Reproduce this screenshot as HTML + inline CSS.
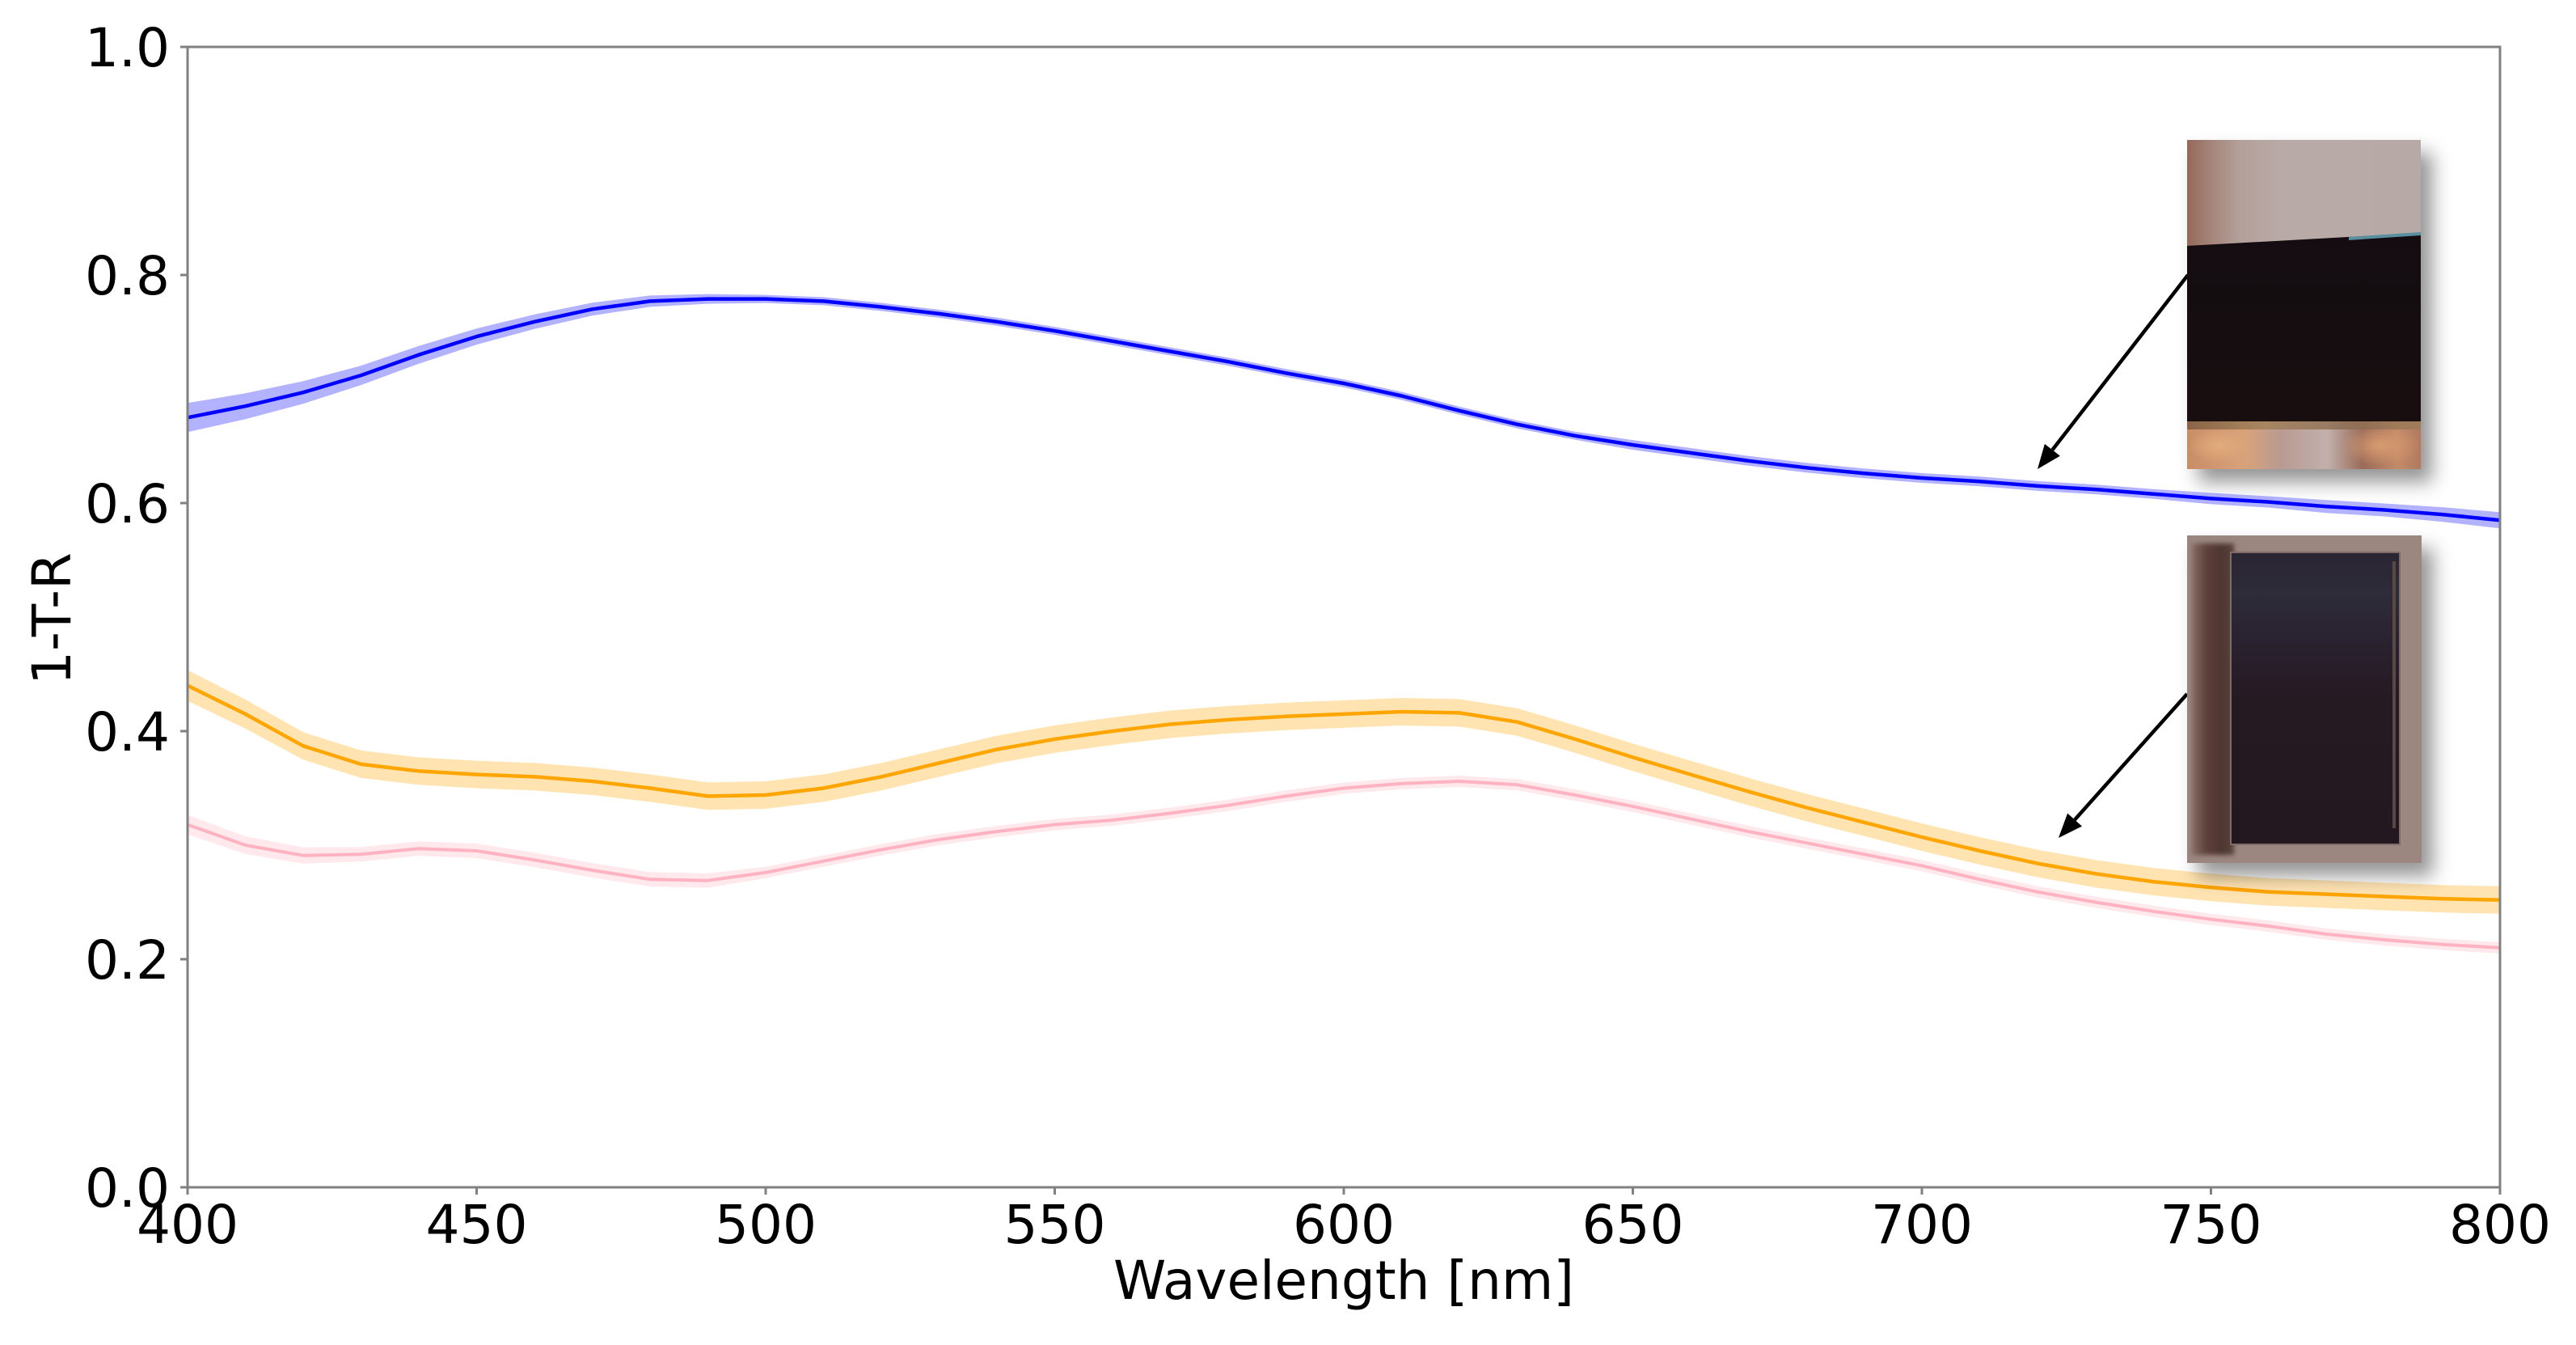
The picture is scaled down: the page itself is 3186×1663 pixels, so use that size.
<!DOCTYPE html>
<html>
<head>
<meta charset="utf-8">
<style>
  html, body { margin:0; padding:0; background:#fff; }
  body { width:3186px; height:1663px; position:relative; overflow:hidden; }
  svg { position:absolute; left:0; top:0; }
  .photo { position:absolute; box-shadow: 14px 16px 22px rgba(0,0,0,0.42); overflow:hidden; }
  #p1 { left:2705px; top:173px; width:289px; height:407px;
        background: linear-gradient(to right, #94695a 0%, #a4847a 10%, #b39f99 22%, #b8aaa6 40%, #b7aaa6 100%); }
  #p1 .dark { position:absolute; left:0; top:0; width:289px; height:407px;
        background: linear-gradient(to bottom, #120c12 0%, #150d10 60%, #1c0f0e 100%);
        clip-path: polygon(0px 131px, 289px 115px, 289px 352px, 0px 352px); }
  #p1 .teal { position:absolute; left:0; top:0; width:289px; height:407px;
        background:#5a8fa0;
        clip-path: polygon(200px 120px, 289px 114px, 289px 118px, 200px 124px); }
  #p1 .bottom { position:absolute; left:0; top:348px; width:289px; height:59px;
        background:
          radial-gradient(ellipse 40px 22px at 40px 30px, #e2ac7c 0%, rgba(226,172,124,0) 100%),
          radial-gradient(ellipse 50px 25px at 240px 30px, #d89c70 0%, rgba(216,156,112,0) 100%),
          linear-gradient(to right, #c98c66 0%, #d8a27a 25%, #b99a92 40%, #c2b0ac 60%, #9a6a58 75%, #c48a68 90%, #b07a60 100%);
  }
  #p1 .bottom:before { content:""; position:absolute; left:0; top:0; width:289px; height:10px;
        background: linear-gradient(to right, #7a5a40, #a08058, #8a6a50, #9c7c5a); opacity:0.8; }
  #p2 { left:2705px; top:662px; width:290px; height:405px; background:#9b8680; }
  #p2 .strip { position:absolute; left:6px; top:10px; width:52px; height:385px;
        background: linear-gradient(to right, #866c66 0%, #5c4038 35%, #4e3630 70%, #5a423c 100%);
        filter: blur(3px); }
  #p2 .inner { position:absolute; left:53px; top:20px; width:211px; height:363px;
        background: linear-gradient(to bottom, #2a2532 0%, #2e2c3a 14%, #2a2230 30%, #261a22 50%, #241820 100%);
        border:2px solid #7e6a68; box-sizing:border-box; }
  #p2 .inner:after { content:""; position:absolute; right:4px; top:10px; width:4px; height:330px;
        background:#5a4846; }
</style>
</head>
<body>
<svg width="3186" height="1663" viewBox="0 0 3186 1663" xmlns="http://www.w3.org/2000/svg">
  <!-- Blue band + line -->
  <polygon fill="#0000ff" fill-opacity="0.3" points="232,498.3 303.5,486.2 375,471.2 446.5,452.1 518,427.7 589.5,406.1 661,388.8 732.5,374.3 804,365.4 875.5,363.6 947,364.6 1018.5,367.4 1090,374.5 1161.5,382.9 1233,392.8 1304.5,404.1 1376,416.8 1447.5,429.5 1519,442.2 1590.5,456.3 1662,469.0 1733.5,484.5 1805,502.8 1876.5,519.7 1948,533.8 2019.5,544.1 2091,554.0 2162.5,563.8 2234,572.3 2305.5,579.3 2377,585.0 2448.5,589.2 2520,594.9 2591.5,599.1 2663,604.7 2734.5,609.4 2806,613.6 2877.5,618.2 2949,622.5 3020.5,627.1 3092,633.2 3092,653.2 3020.5,645.1 2949,638.5 2877.5,634.2 2806,627.6 2734.5,623.4 2663,616.7 2591.5,611.1 2520,606.9 2448.5,601.2 2377,597.0 2305.5,591.3 2234,584.3 2162.5,575.8 2091,566.0 2019.5,556.1 1948,543.8 1876.5,529.7 1805,512.8 1733.5,494.5 1662,479.0 1590.5,466.3 1519,452.2 1447.5,439.5 1376,426.8 1304.5,414.1 1233,402.8 1161.5,392.9 1090,384.5 1018.5,377.4 947,374.6 875.5,375.6 804,379.4 732.5,390.3 661,406.8 589.5,426.1 518,449.7 446.5,476.1 375,499.2 303.5,518.2 232,534.3"/>
  <polyline fill="none" stroke="#0000ff" stroke-width="4.5" stroke-linejoin="round" points="232,516.3 303.5,502.2 375,485.2 446.5,464.1 518,438.7 589.5,416.1 661,397.8 732.5,382.3 804,372.4 875.5,369.6 947,369.6 1018.5,372.4 1090,379.5 1161.5,387.9 1233,397.8 1304.5,409.1 1376,421.8 1447.5,434.5 1519,447.2 1590.5,461.3 1662,474.0 1733.5,489.5 1805,507.8 1876.5,524.7 1948,538.8 2019.5,550.1 2091,560.0 2162.5,569.8 2234,578.3 2305.5,585.3 2377,591.0 2448.5,595.2 2520,600.9 2591.5,605.1 2663,610.7 2734.5,616.4 2806,620.6 2877.5,626.2 2949,630.5 3020.5,636.1 3092,643.2"/>

  <!-- Orange band + line -->
  <polygon fill="#ffa500" fill-opacity="0.3" points="232,828.6 303.5,864.9 375,905.3 446.5,927.9 518,936.4 589.5,940.6 661,943.4 732.5,949.0 804,957.5 875.5,967.4 947,966.0 1018.5,957.5 1090,943.4 1161.5,926.5 1233,909.6 1304.5,896.9 1376,887.0 1447.5,878.5 1519,872.9 1590.5,868.7 1662,865.9 1733.5,863.0 1805,864.4 1876.5,875.7 1948,896.9 2019.5,919.4 2091,940.6 2162.5,961.7 2234,981.5 2305.5,999.8 2377,1018.1 2448.5,1035.0 2520,1050.6 2591.5,1063.3 2663,1073.1 2734.5,1080.2 2806,1085.8 2877.5,1088.6 2949,1091.5 3020.5,1094.3 3092,1095.7 3092,1129.7 3020.5,1128.3 2949,1125.5 2877.5,1122.6 2806,1119.8 2734.5,1114.2 2663,1107.1 2591.5,1097.3 2520,1084.6 2448.5,1069.0 2377,1052.1 2305.5,1033.8 2234,1015.5 2162.5,995.7 2091,974.6 2019.5,953.4 1948,930.9 1876.5,909.7 1805,898.4 1733.5,897.0 1662,899.9 1590.5,902.7 1519,906.9 1447.5,912.5 1376,921.0 1304.5,930.9 1233,943.6 1161.5,960.5 1090,977.4 1018.5,991.5 947,1000.0 875.5,1001.4 804,991.5 732.5,983.0 661,977.4 589.5,974.6 518,970.4 446.5,961.9 375,939.3 303.5,900.9 232,866.6"/>
  <polyline fill="none" stroke="#ffa500" stroke-width="4.5" stroke-linejoin="round" points="232,847.6 303.5,882.9 375,922.3 446.5,944.9 518,953.4 589.5,957.6 661,960.4 732.5,966.0 804,974.5 875.5,984.4 947,983.0 1018.5,974.5 1090,960.4 1161.5,943.5 1233,926.6 1304.5,913.9 1376,904.0 1447.5,895.5 1519,889.9 1590.5,885.7 1662,882.9 1733.5,880.0 1805,881.4 1876.5,892.7 1948,913.9 2019.5,936.4 2091,957.6 2162.5,978.7 2234,998.5 2305.5,1016.8 2377,1035.1 2448.5,1052.0 2520,1067.6 2591.5,1080.3 2663,1090.1 2734.5,1097.2 2806,1102.8 2877.5,1105.6 2949,1108.5 3020.5,1111.3 3092,1112.7"/>

  <!-- Pink band + line -->
  <polygon fill="#ffc0cb" fill-opacity="0.35" points="232,1007.6 303.5,1034.0 375,1047.7 446.5,1047.3 518,1040.2 589.5,1043.0 661,1054.3 732.5,1067.0 804,1078.3 875.5,1079.7 947,1071.8 1018.5,1057.7 1090,1043.6 1161.5,1031.0 1233,1021.1 1304.5,1012.6 1376,1007.0 1447.5,998.5 1519,988.7 1590.5,977.4 1662,967.5 1733.5,961.9 1805,959.0 1876.5,963.3 1948,976.0 2019.5,990.1 2091,1005.6 2162.5,1021.1 2234,1035.2 2305.5,1049.3 2377,1063.4 2448.5,1080.3 2520,1095.8 2591.5,1108.5 2663,1119.8 2734.5,1129.7 2806,1138.1 2877.5,1148.0 2949,1155.0 3020.5,1160.7 3092,1164.9 3092,1178.9 3020.5,1174.7 2949,1169.0 2877.5,1162.0 2806,1152.1 2734.5,1143.7 2663,1133.8 2591.5,1122.5 2520,1109.8 2448.5,1094.3 2377,1077.4 2305.5,1063.3 2234,1049.2 2162.5,1035.1 2091,1019.6 2019.5,1004.1 1948,990.0 1876.5,977.3 1805,973.0 1733.5,975.9 1662,981.5 1590.5,991.4 1519,1002.7 1447.5,1012.5 1376,1021.0 1304.5,1026.6 1233,1035.1 1161.5,1045.0 1090,1057.6 1018.5,1071.7 947,1085.8 875.5,1097.7 804,1096.3 732.5,1085.0 661,1072.3 589.5,1061.0 518,1058.2 446.5,1065.3 375,1067.7 303.5,1056.0 232,1031.6"/>
  <polyline fill="none" stroke="#ffb3c1" stroke-width="4" stroke-linejoin="round" points="232,1019.6 303.5,1045.0 375,1057.7 446.5,1056.3 518,1049.2 589.5,1052.0 661,1063.3 732.5,1076.0 804,1087.3 875.5,1088.7 947,1078.8 1018.5,1064.7 1090,1050.6 1161.5,1038.0 1233,1028.1 1304.5,1019.6 1376,1014.0 1447.5,1005.5 1519,995.7 1590.5,984.4 1662,974.5 1733.5,968.9 1805,966.0 1876.5,970.3 1948,983.0 2019.5,997.1 2091,1012.6 2162.5,1028.1 2234,1042.2 2305.5,1056.3 2377,1070.4 2448.5,1087.3 2520,1102.8 2591.5,1115.5 2663,1126.8 2734.5,1136.7 2806,1145.1 2877.5,1155.0 2949,1162.0 3020.5,1167.7 3092,1171.9"/>

  <!-- Axes frame -->
  <rect x="232" y="58" width="2860" height="1410" fill="none" stroke="#808080" stroke-width="3"/>
  <!-- Y ticks -->
  <g stroke="#808080" stroke-width="3">
    <line x1="223" y1="1468" x2="232" y2="1468"/>
    <line x1="223" y1="1186" x2="232" y2="1186"/>
    <line x1="223" y1="904" x2="232" y2="904"/>
    <line x1="223" y1="622" x2="232" y2="622"/>
    <line x1="223" y1="340" x2="232" y2="340"/>
    <line x1="223" y1="58" x2="232" y2="58"/>
    <!-- X ticks -->
    <line x1="232" y1="1468" x2="232" y2="1477"/>
    <line x1="589.5" y1="1468" x2="589.5" y2="1477"/>
    <line x1="947" y1="1468" x2="947" y2="1477"/>
    <line x1="1304.5" y1="1468" x2="1304.5" y2="1477"/>
    <line x1="1662" y1="1468" x2="1662" y2="1477"/>
    <line x1="2019.5" y1="1468" x2="2019.5" y2="1477"/>
    <line x1="2377" y1="1468" x2="2377" y2="1477"/>
    <line x1="2734.5" y1="1468" x2="2734.5" y2="1477"/>
    <line x1="3092" y1="1468" x2="3092" y2="1477"/>
  </g>

  <g font-family="'DejaVu Sans', 'Liberation Sans', sans-serif" font-size="66" fill="#000">
    <g text-anchor="end">
      <text x="210" y="1492">0.0</text>
      <text x="210" y="1210">0.2</text>
      <text x="210" y="928">0.4</text>
      <text x="210" y="646">0.6</text>
      <text x="210" y="364">0.8</text>
      <text x="210" y="82">1.0</text>
    </g>
    <g text-anchor="middle">
      <text x="232" y="1537">400</text>
      <text x="589.5" y="1537">450</text>
      <text x="947" y="1537">500</text>
      <text x="1304.5" y="1537">550</text>
      <text x="1662" y="1537">600</text>
      <text x="2019.5" y="1537">650</text>
      <text x="2377" y="1537">700</text>
      <text x="2734.5" y="1537">750</text>
      <text x="3092" y="1537">800</text>
      <text x="1662" y="1606">Wavelength [nm]</text>
      <text transform="translate(87,765) rotate(-90)">1-T-R</text>
    </g>
  </g>

  <!-- Arrows -->
  <g stroke="#000" stroke-width="4.5" fill="#000">
    <line x1="2706" y1="340" x2="2538.4" y2="556.3"/>
    <polygon stroke="none" points="2520,580 2547.9,563.7 2528.9,548.9"/>
    <line x1="2705" y1="858" x2="2566" y2="1013.6"/>
    <polygon stroke="none" points="2546,1036 2575,1021.6 2557.1,1005.6"/>
  </g>
</svg>

<div class="photo" id="p1">
  <div class="dark"></div>
  <div class="teal"></div>
  <div class="bottom"></div>
</div>
<div class="photo" id="p2">
  <div class="strip"></div>
  <div class="inner"></div>
</div>
</body>
</html>
